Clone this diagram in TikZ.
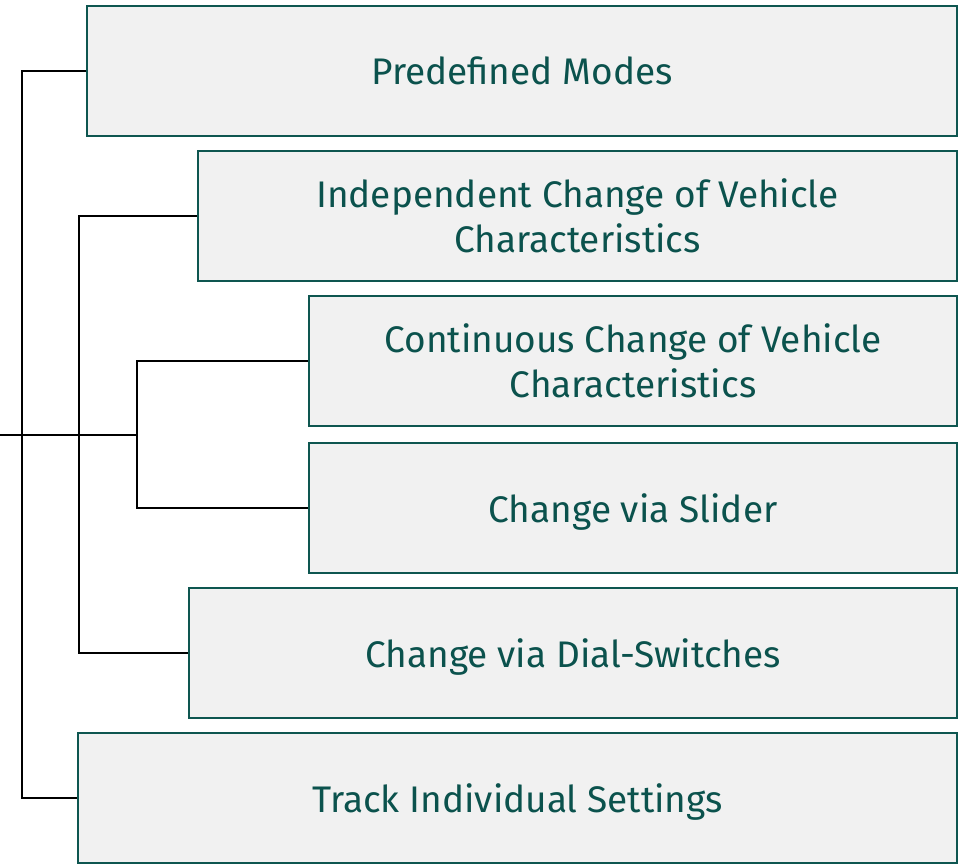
\documentclass[tikz,border=0pt]{standalone}
\usepackage{fontspec}
\setmainfont{Fira Sans}
\definecolor{boxline}{HTML}{0E5650}
\definecolor{boxfill}{HTML}{F1F1F1}
\definecolor{boxtext}{HTML}{0B524D}
\tikzset{
  optbox/.style={draw=boxline, fill=boxfill, line width=2pt, minimum height=130pt, inner sep=0pt},
  optlabel/.style={text=boxtext, font=\fontsize{37}{45}\selectfont, align=center, text depth=0pt, inner sep=0pt},
  tree/.style={draw=black, line width=2pt}
}
\begin{document}
\begin{tikzpicture}[x=1pt,y=-1pt]
  \useasboundingbox (0,0) rectangle (968,866);

  % option boxes
  \node[optbox, minimum width=870pt] (b1) at (522,71) {};
  \node[optbox, minimum width=759pt] (b2) at (577.5,216) {};
  \node[optbox, minimum width=648pt] (b3) at (633,361) {};
  \node[optbox, minimum width=648pt] (b4) at (633,508) {};
  \node[optbox, minimum width=768pt] (b5) at (573,653) {};
  \node[optbox, minimum width=879pt] (b6) at (517.5,798) {};

  % labels
  \node[optlabel] (l1) at (b1) {Predefined Modes};
  \node[optlabel] (l2) at (b2) {Independent Change of Vehicle\\Characteristics};
  \node[optlabel] (l3) at (b3) {Continuous Change of Vehicle\\Characteristics};
  \node[optlabel] (l4) at (b4) {Change via Slider};
  \node[optlabel] (l5) at (b5) {Change via Dial-Switches};
  \node[optlabel] (l6) at (b6) {Track Individual Settings};

  % bracket tree
  \coordinate (root) at (0,435);
  \coordinate (j1) at (22,435);
  \coordinate (j2) at (79,435);
  \coordinate (j3) at (137,435);
  \draw[tree] (root) -- (j3);
  \draw[tree] (b1.west) -- (b1.west -| j1) -- (b6.west -| j1) -- (b6.west);
  \draw[tree] (b2.west) -- (b2.west -| j2) -- (b5.west -| j2) -- (b5.west);
  \draw[tree] (b3.west) -- (b3.west -| j3) -- (b4.west -| j3) -- (b4.west);
\end{tikzpicture}
\end{document}
